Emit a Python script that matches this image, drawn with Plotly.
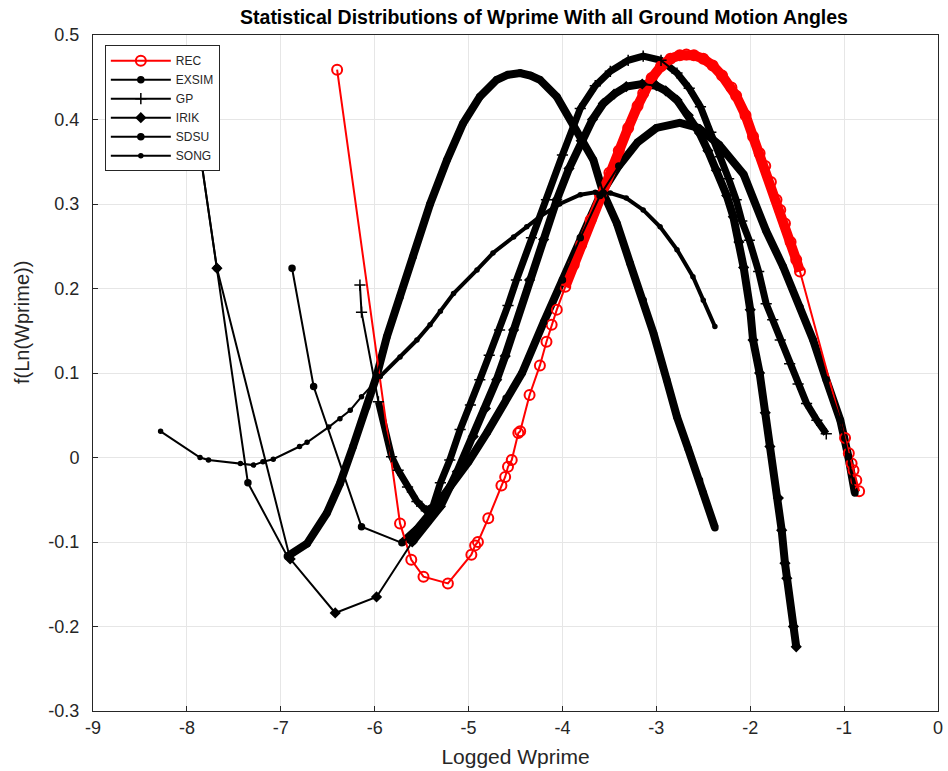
import plotly.graph_objects as go

# ---------------- data ----------------
rec_x = [-6.40, -5.73, -5.61, -5.48, -5.22, -4.97, -4.93, -4.90, -4.79, -4.65, -4.61, -4.58, -4.54,
         -4.47, -4.45, -4.35, -4.24, -4.17, -4.115, -4.06, -3.97, -3.88, -3.80, -3.70, -3.60, -3.50,
         -3.40, -3.30, -3.20, -3.14, -3.05, -2.95, -2.85, -2.75, -2.68, -2.60, -2.50, -2.40, -2.30,
         -2.20, -2.15, -2.05, -1.97, -1.90, -1.84, -1.78, -1.72, -1.68, -1.63, -1.57, -1.51, -1.47,
         -0.99, -0.95, -0.92, -0.90, -0.87, -0.84]
rec_y = [0.459, -0.078, -0.121, -0.141, -0.149, -0.115, -0.104, -0.100, -0.072, -0.033, -0.023, -0.011, -0.003,
         0.029, 0.031, 0.074, 0.109, 0.137, 0.157, 0.175, 0.202, 0.228, 0.252, 0.281, 0.310, 0.337,
         0.363, 0.390, 0.416, 0.431, 0.449, 0.463, 0.472, 0.476, 0.477, 0.476, 0.472, 0.464, 0.452,
         0.438, 0.428, 0.405, 0.380, 0.360, 0.345, 0.326, 0.305, 0.293, 0.277, 0.255, 0.234, 0.220,
         0.023, 0.005, -0.007, -0.015, -0.027, -0.040]

exsim_x = [-7.95, -7.68, -7.35, -6.93, -6.72, -6.51, -6.37, -6.23, -6.085, -5.98, -5.87, -5.73, -5.59,
           -5.41, -5.23, -5.06, -4.88, -4.70, -4.58, -4.45, -4.34, -4.24, -4.06, -3.89, -3.78, -3.67,
           -3.565, -3.42, -3.28, -3.14, -3.03, -2.89, -2.78, -2.66, -2.54, -2.50, -2.376]
exsim_y = [0.430, 0.224, -0.030, -0.117, -0.102, -0.066, -0.031, 0.013, 0.060, 0.096, 0.143, 0.190, 0.238,
           0.300, 0.352, 0.395, 0.427, 0.447, 0.453, 0.455, 0.452, 0.447, 0.427, 0.395, 0.375, 0.352,
           0.313, 0.277, 0.230, 0.186, 0.147, 0.092, 0.048, 0.010, -0.027, -0.042, -0.083]

gp_x = [-6.157, -6.14, -5.96, -5.82, -5.75, -5.65, -5.55, -5.45, -5.38, -5.30, -5.20, -5.09, -4.98,
        -4.88, -4.78, -4.67, -4.58, -4.49, -4.33, -4.17, -4.00, -3.81, -3.65, -3.49, -3.30, -3.14,
        -2.95, -2.78, -2.65, -2.53, -2.42, -2.32, -2.23, -2.15, -2.09, -2.01, -1.91, -1.83, -1.76,
        -1.68, -1.58, -1.49, -1.40, -1.29, -1.19]
gp_y = [0.204, 0.172, 0.066, 0.001, -0.015, -0.035, -0.052, -0.063, -0.058, -0.030, -0.003, 0.033, 0.062,
        0.092, 0.121, 0.151, 0.180, 0.210, 0.260, 0.305, 0.358, 0.413, 0.440, 0.457, 0.470, 0.475,
        0.470, 0.455, 0.437, 0.415, 0.385, 0.356, 0.330, 0.305, 0.280, 0.257, 0.220, 0.182, 0.163,
        0.139, 0.111, 0.087, 0.064, 0.044, 0.028]

irik_x = [-7.95, -7.68, -6.90, -6.42, -5.98, -5.60, -5.45, -5.30, -5.12, -4.95, -4.82, -4.70, -4.61,
          -4.52, -4.35, -4.20, -4.06, -3.93, -3.80, -3.68, -3.565, -3.45, -3.32, -3.15, -3.00, -2.90,
          -2.78, -2.66, -2.54, -2.45, -2.36, -2.25, -2.18, -2.12, -2.07, -2.00, -1.97, -1.90, -1.84,
          -1.79, -1.70, -1.665, -1.63, -1.61, -1.54, -1.51]
irik_y = [0.430, 0.224, -0.120, -0.184, -0.165, -0.100, -0.078, -0.058, -0.017, 0.025, 0.058, 0.092, 0.120,
          0.151, 0.210, 0.258, 0.305, 0.342, 0.375, 0.400, 0.419, 0.430, 0.439, 0.442, 0.440, 0.434,
          0.423, 0.405, 0.384, 0.363, 0.340, 0.310, 0.285, 0.255, 0.225, 0.175, 0.139, 0.100, 0.053,
          0.013, -0.048, -0.086, -0.125, -0.143, -0.200, -0.224]

sdsu_x = [-6.88, -6.65, -6.14, -5.71, -5.55, -5.40, -5.20, -5.00, -4.80, -4.60, -4.43, -4.20, -4.00,
          -3.81, -3.60, -3.40, -3.20, -3.00, -2.75, -2.55, -2.33, -2.07, -1.83, -1.65, -1.47, -1.33,
          -1.19, -1.04, -0.955, -0.885]
sdsu_y = [0.224, 0.084, -0.082, -0.101, -0.085, -0.065, -0.035, -0.005, 0.030, 0.070, 0.100, 0.160, 0.210,
          0.260, 0.310, 0.345, 0.373, 0.390, 0.396, 0.390, 0.370, 0.335, 0.268, 0.226, 0.178, 0.139,
          0.092, 0.044, 0.001, -0.042]

song_x = [-8.28, -7.86, -7.77, -7.43, -7.29, -7.19, -7.08, -6.80, -6.72, -6.49, -6.37, -6.26, -6.14,
          -5.94, -5.73, -5.55, -5.41, -5.30, -5.16, -4.91, -4.74, -4.52, -4.38, -4.24, -4.03, -3.81,
          -3.65, -3.49, -3.32, -3.14, -2.96, -2.78, -2.61, -2.50, -2.376]
song_y = [0.031, 0.000, -0.003, -0.007, -0.009, -0.005, -0.002, 0.013, 0.018, 0.036, 0.046, 0.056, 0.072,
          0.096, 0.119, 0.139, 0.157, 0.173, 0.194, 0.222, 0.242, 0.261, 0.273, 0.285, 0.300, 0.311,
          0.314, 0.313, 0.307, 0.293, 0.273, 0.246, 0.214, 0.186, 0.155]

x_ticks = [-9, -8, -7, -6, -5, -4, -3, -2, -1, 0]
y_ticks = [-0.3, -0.2, -0.1, 0, 0.1, 0.2, 0.3, 0.4, 0.5]

# ---------------- styles ----------------
FONT = "Liberation Sans, Arial, Helvetica"
# (name, x, y, marker symbol, marker size, index where dense sampling starts, band width)
black_series = [
    ("EXSIM", exsim_x, exsim_y, "circle", 6, 3, 8),
    ("GP", gp_x, gp_y, "cross-thin", 8, 2, 7),
    ("IRIK", irik_x, irik_y, "diamond", 7, 5, 8),
    ("SDSU", sdsu_x, sdsu_y, "circle", 6, 3, 8),
    ("SONG", song_x, song_y, "circle", 4, 13, 4),
]

fig = go.Figure()

# thick band for the densely sampled part of each curve
for name, xs, ys, sym, size, start, bw in black_series:
    fig.add_trace(go.Scatter(x=xs[start:], y=ys[start:], mode="lines",
                             line=dict(color="black", width=bw),
                             legendgroup=name, showlegend=False, hoverinfo="skip"))
fig.add_trace(go.Scatter(x=rec_x[20:52], y=rec_y[20:52], mode="lines",
                         line=dict(color="red", width=10), legendgroup="REC",
                         showlegend=False, hoverinfo="skip"))

fig.add_trace(go.Scatter(x=rec_x, y=rec_y, mode="lines+markers", name="REC",
                         line=dict(color="red", width=2),
                         marker=dict(symbol="circle-open", size=10, color="red",
                                     line=dict(width=2, color="red")),
                         legendgroup="REC"))
for name, xs, ys, sym, size, start, bw in black_series:
    fig.add_trace(go.Scatter(x=xs, y=ys, mode="lines+markers", name=name,
                             line=dict(color="black", width=2),
                             marker=dict(symbol=sym, size=size, color="black",
                                         line=dict(width=1.5, color="black")),
                             legendgroup=name))

axis_common = dict(showgrid=True, gridcolor="#e6e6e6", gridwidth=1, zeroline=False,
                   showline=True, linecolor="#262626", linewidth=1, mirror=True,
                   ticks="inside", ticklen=5, tickcolor="#262626", automargin=False,
                   tickfont=dict(family=FONT, size=18, color="#262626"))

fig.update_layout(
    width=948, height=771,
    paper_bgcolor="white", plot_bgcolor="white",
    margin=dict(l=93, r=10, t=35, b=60, autoexpand=False),
    title=dict(text="<b>Statistical Distributions of Wprime With all Ground Motion Angles</b>",
               x=544 / 948, xref="container", xanchor="center", y=1 - 17 / 771, yanchor="middle",
               font=dict(family=FONT, size=19.5, color="#000000")),
    xaxis=dict(range=[-9, 0], tickvals=x_ticks, ticktext=[str(v) for v in x_ticks],
               title=dict(text="Logged Wprime", standoff=12,
                          font=dict(family=FONT, size=21, color="#262626")),
               **axis_common),
    yaxis=dict(range=[-0.3, 0.5], tickvals=y_ticks, ticktext=[f"{v:g}" for v in y_ticks],
               ticklabelstandoff=9, **axis_common),
    annotations=[dict(text="f(Ln(Wprime))", xref="paper", yref="paper",
                      x=-71 / 845, y=(711 - 323) / 676, xanchor="center", yanchor="middle",
                      textangle=-90, showarrow=False,
                      font=dict(family=FONT, size=20, color="#262626"))],
    legend=dict(x=0.014, y=0.985, xanchor="left", yanchor="top",
                bgcolor="white", bordercolor="#262626", borderwidth=1,
                font=dict(family=FONT, size=12, color="#262626"),
                tracegroupgap=0, itemwidth=60),
    showlegend=True,
)

fig.write_html("out.html")
